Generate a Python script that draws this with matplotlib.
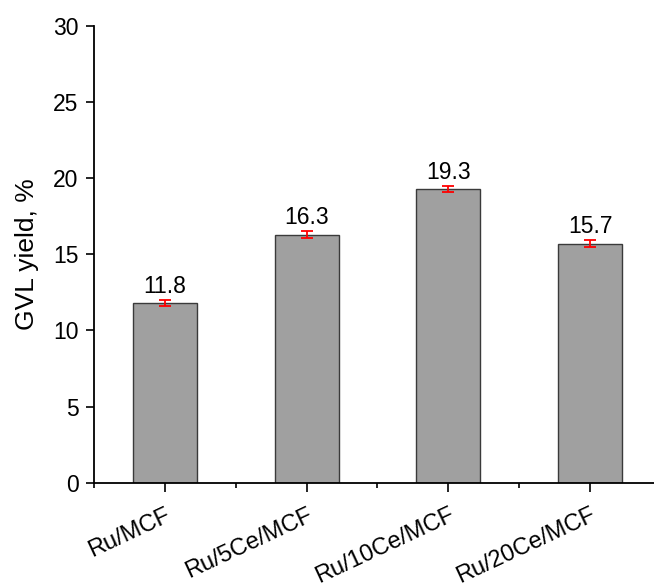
import matplotlib
matplotlib.use('Agg')
import matplotlib.pyplot as plt
from matplotlib.ticker import MultipleLocator, FixedLocator

plt.rcParams['font.family'] = ['Liberation Sans', 'DejaVu Sans']

# Data
# ===========================
catalysts = ['Ru/MCF', 'Ru/5Ce/MCF', 'Ru/10Ce/MCF', 'Ru/20Ce/MCF']
gvl_yield = [11.8, 16.3, 19.3, 15.7]
yield_err = [0.22, 0.22, 0.2, 0.22]
value_labels = ['11.8', '16.3', '19.3', '15.7']

fig = plt.figure(figsize=(6.54, 5.88), dpi=100, facecolor='w')
ax = fig.add_axes([0.1437, 0.179, 0.867, 0.777])

pos = list(range(1, len(catalysts) + 1))
ax.bar(pos, gvl_yield, width=0.45, color='#a0a0a0', edgecolor='#3a3a3a',
       linewidth=1.0, zorder=2)
ax.errorbar(pos, gvl_yield, yerr=yield_err, fmt='none', ecolor='red',
            elinewidth=1.3, capsize=4, capthick=1.3, zorder=3)

for x, v, e, lab in zip(pos, gvl_yield, yield_err, value_labels):
    ax.text(x, v + e + 0.12, lab, ha='center', va='bottom', fontsize=16.5)

ax.set_xlim(0.5, 4.5)
ax.set_ylim(0, 30)
ax.yaxis.set_major_locator(MultipleLocator(5))
ax.xaxis.set_major_locator(FixedLocator(pos))
ax.xaxis.set_minor_locator(FixedLocator([0.5, 1.5, 2.5, 3.5, 4.5]))
ax.set_xticklabels(catalysts, rotation=25, ha='right', rotation_mode='anchor',
                   fontsize=17)
ax.tick_params(axis='x', which='major', length=6.5, width=1.2, pad=9)
ax.tick_params(axis='x', which='minor', length=3.5, width=1.2)
ax.tick_params(axis='y', which='major', length=6, width=1.2, pad=5,
               labelsize=16.5)

for spine in ['top', 'right']:
    ax.spines[spine].set_visible(False)
for spine in ['left', 'bottom']:
    ax.spines[spine].set_linewidth(1.3)

ax.set_ylabel('GVL yield, %', fontsize=19, labelpad=10)

plt.savefig('out.png', dpi=100)
